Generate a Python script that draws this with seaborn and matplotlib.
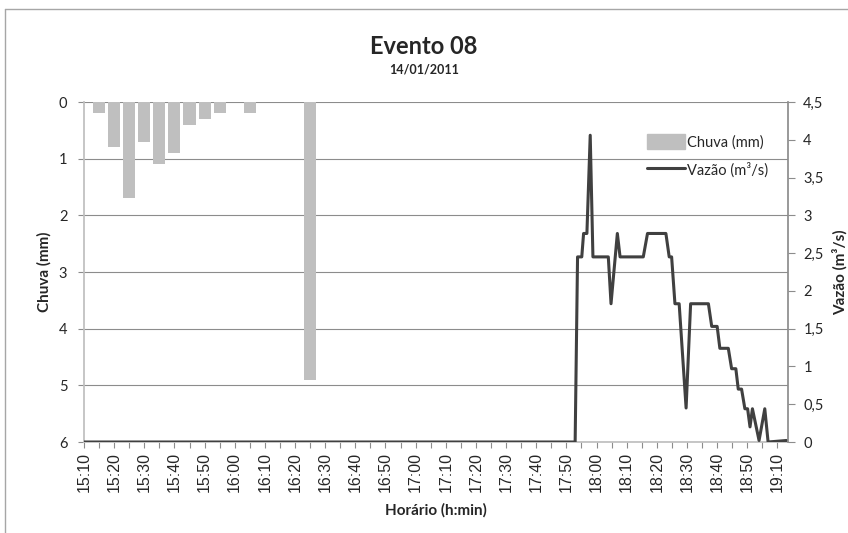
import numpy             as np
import matplotlib.pyplot as plt
import seaborn           as sns
from matplotlib.patches import Patch
from matplotlib.lines   import Line2D

sns.set_theme(style = 'white')
plt.rcParams['font.family'] = ['Lato', 'DejaVu Sans']

# Rain (minutes after 15:10, mm)
chuva_min = [5, 10, 15, 20, 25, 30, 35, 40, 45, 55, 75]
chuva_mm  = [0.2, 0.8, 1.7, 0.7, 1.1, 0.9, 0.4, 0.3, 0.2, 0.2, 4.9]

# Discharge (minutes after 15:10, m3/s)
vazao_min = [0, 162.9, 163.7, 165.1, 165.7, 166.8, 167.9, 168.8, 173.9, 174.8,
             176.9, 177.8, 185.5, 186.9, 193.0, 194.1, 194.9, 196.0, 197.4, 199.7,
             201.2, 207.1, 208.2, 210.0, 210.9, 213.7, 214.8, 216.2, 217.0, 218.1,
             219.2, 220.1, 220.9, 221.7, 223.9, 225.8, 226.9, 233.0]
vazao     = [0, 0, 2.45, 2.45, 2.76, 2.76, 4.06, 2.45, 2.45, 1.83,
             2.76, 2.45, 2.45, 2.76, 2.76, 2.45, 2.45, 1.83, 1.83, 0.45,
             1.83, 1.83, 1.53, 1.53, 1.24, 1.24, 0.97, 0.97, 0.70, 0.70,
             0.44, 0.44, 0.20, 0.44, 0.02, 0.44, 0.0, 0.02]

x_labels  = ['15:10', '15:20', '15:30', '15:40', '15:50', '16:00', '16:10', '16:20',
             '16:30', '16:40', '16:50', '17:00', '17:10', '17:20', '17:30', '17:40',
             '17:50', '18:00', '18:10', '18:20', '18:30', '18:40', '18:50', '19:10']
y2_labels = ['0', '0,5', '1', '1,5', '2', '2,5', '3', '3,5', '4', '4,5']

bar_color  = '#BFBFBF'
line_color = '#404040'
grid_color = '#8C8C8C'

fig = plt.figure(figsize = (8.48, 5.33), dpi = 100)
ax  = fig.add_axes([84 / 848, 1 - 442 / 533, 704 / 848, 340 / 533])
ax2 = ax.twinx()

# Bars (rain) on the inverted left axis
sns.barplot(x = chuva_min, y = chuva_mm, native_scale = True, color = bar_color,
            saturation = 1, width = 0.8, linewidth = 0, ax = ax)
ax.set_xlim(0, 233.5)
ax.set_ylim(6, 0)
ax.set_yticks(range(7))
ax.set_yticklabels([str(i) for i in range(7)], fontsize = 10.5)
ax.grid(axis = 'y', color = grid_color, linewidth = 0.8)
ax.set_axisbelow(True)

ax.set_xticks(np.arange(0, 231, 10))
ax.set_xticklabels(x_labels, rotation = 90, fontsize = 11.5, family = 'Liberation Sans')
ax.set_xticks(np.arange(5, 234, 10), minor = True)
ax.tick_params(axis = 'x', which = 'both', length = 4, width = 0.8, color = grid_color,
               bottom = True, pad = 3)
ax.tick_params(axis = 'y', length = 4, width = 0.8, color = grid_color, left = True, pad = 8)

for side in ['top', 'right']:
    ax.spines[side].set_visible(False)
ax.spines['left'].set_color('#BFBFBF')
ax.spines['bottom'].set_color('#BFBFBF')

ax.set_xlabel('Horário (h:min)', fontsize = 11, weight = 'bold', labelpad = 8)
ax.set_ylabel('Chuva (mm)', fontsize = 11, weight = 'bold', labelpad = 5)

# Line (discharge) on the right axis
sns.lineplot(x = vazao_min, y = vazao, color = line_color, linewidth = 2.2, ax = ax2)
ax2.set_xlim(0, 233.5)
ax2.set_ylim(0, 4.5)
ax2.set_yticks(np.arange(0, 4.51, 0.5))
ax2.set_yticklabels(y2_labels, fontsize = 10.5)
ax2.tick_params(axis = 'y', length = 5, width = 0.8, color = grid_color, right = True, pad = 6)
for side in ['top', 'left', 'bottom']:
    ax2.spines[side].set_visible(False)
ax2.spines['right'].set_color(grid_color)
ax2.set_ylabel('Vazão (m³/s)', fontsize = 11, weight = 'bold', labelpad = 6)

handles = [Patch(color = bar_color), Line2D([], [], color = line_color, linewidth = 2.2)]
ax2.legend(handles, ['Chuva (mm)', 'Vazão (m³/s)'], loc = 'upper left',
           bbox_to_anchor = (640 / 848, 1 - 127 / 533), bbox_transform = fig.transFigure,
           frameon = False, fontsize = 10.5, handlelength = 2.6, handleheight = 1.2,
           handletextpad = 0.1, labelspacing = 0.85, borderpad = 0)

fig.text(0.5, 1 - 47 / 533, 'Evento 08', ha = 'center', va = 'center',
         fontsize = 17, weight = 'bold')
fig.text(0.5, 1 - 69 / 533, '14/01/2011', ha = 'center', va = 'center',
         fontsize = 9, weight = 'bold')

# Chart area border (left and top edges visible)
fig.add_artist(Line2D([5 / 848, 5 / 848], [0, 1 - 9 / 533], color = '#A6A6A6',
                      linewidth = 1, transform = fig.transFigure))
fig.add_artist(Line2D([5 / 848, 1], [1 - 9 / 533, 1 - 9 / 533], color = '#A6A6A6',
                      linewidth = 1, transform = fig.transFigure))

plt.savefig('out.png', dpi = 100)
